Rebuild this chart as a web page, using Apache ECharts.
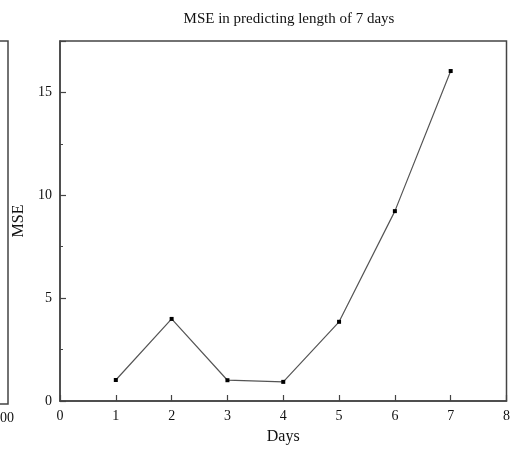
<!DOCTYPE html>
<html><head><meta charset="utf-8">
<script src="https://cdn.jsdelivr.net/npm/echarts@6/dist/echarts.min.js"></script>
<style>html,body{margin:0;padding:0;background:#fff}#c{width:513px;height:450px}</style>
</head><body><div id="c"></div>
<script>
const days = [1, 2, 3, 4, 5, 6, 7];
const mse = [1.02, 3.99, 1.01, 0.93, 3.85, 9.23, 16.04];
const xTicks = [0, 8, 1];
const yTicks = [0, 17.5, 5];

const chart = echarts.init(document.getElementById('c'));
const font = "'Liberation Serif','DejaVu Serif',serif";
const axisCol = '#444';
chart.setOption({
  animation: false,
  backgroundColor: '#fff',
  title: {
    text: 'MSE in predicting length of 7 days',
    left: 284, top: 7, textAlign: 'center',
    textStyle: {fontFamily: font, fontSize: 15, fontWeight: 'normal', color: '#111'}
  },
  grid: {left: 60, right: 1, top: 41, bottom: 46, show: true, borderColor: axisCol, borderWidth: 1.5},
  xAxis: {
    type: 'value', min: xTicks[0], max: xTicks[1], interval: xTicks[2],
    name: 'Days', nameLocation: 'middle', nameGap: 28,
    nameTextStyle: {fontFamily: font, fontSize: 16, color: '#111'},
    axisLine: {show: true, lineStyle: {color: axisCol, width: 1.5}},
    axisTick: {show: true, inside: true, length: 6, lineStyle: {color: axisCol, width: 1.2}},
    axisLabel: {fontFamily: font, fontSize: 14, color: '#111', margin: 8},
    splitLine: {show: false}
  },
  yAxis: {
    type: 'value', min: yTicks[0], max: yTicks[1], interval: yTicks[2],
    name: 'MSE', nameLocation: 'middle', nameGap: 33, nameRotate: 90,
    nameTextStyle: {fontFamily: font, fontSize: 16, color: '#111'},
    axisLine: {show: true, lineStyle: {color: axisCol, width: 1.5}},
    axisTick: {show: true, inside: true, length: 6, lineStyle: {color: axisCol, width: 1.2}},
    minorTick: {show: true, splitNumber: 2, length: 3, lineStyle: {color: axisCol, width: 1}},
    axisLabel: {fontFamily: font, fontSize: 14, color: '#111', margin: 8, showMaxLabel: false,
      formatter: v => (v % 5 === 0 ? String(v) : '')},
    splitLine: {show: false}
  },
  series: [{
    type: 'line',
    data: days.map((d, i) => [d, mse[i]]),
    symbol: 'rect', symbolSize: 4,
    itemStyle: {color: '#000'},
    lineStyle: {color: '#555', width: 1.2}
  }],
  graphic: [
    {type: 'polyline', shape: {points: [[0, 41], [8, 41], [8, 404], [0, 404]]},
     style: {stroke: axisCol, lineWidth: 1.5, fill: null}},
    {type: 'text', left: 0, top: 411,
     style: {text: '00', font: "14px 'Liberation Serif'", fill: '#111'}}
  ]
});
</script></body></html>
